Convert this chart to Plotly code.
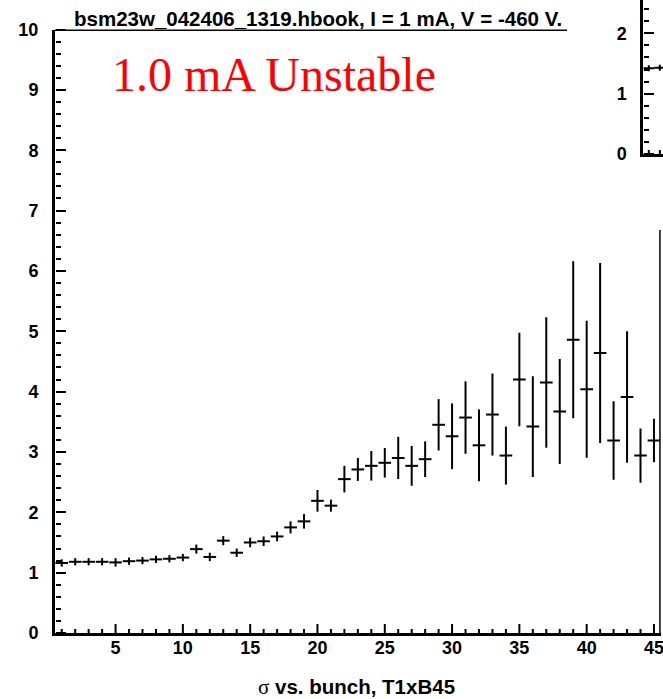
import plotly.graph_objects as go

# ---- data: main panel (sigma vs bunch) ----
bunch = list(range(1, 46))
sigma = [1.16, 1.18, 1.18, 1.18, 1.17, 1.19, 1.20, 1.22, 1.23, 1.25,
         1.39, 1.26, 1.53, 1.33, 1.50, 1.52, 1.60, 1.75, 1.85, 2.19,
         2.11, 2.55, 2.71, 2.77, 2.82, 2.90, 2.77, 2.88, 3.45, 3.26,
         3.57, 3.11, 3.62, 2.94, 4.20, 3.42, 4.15, 3.67, 4.86, 4.04,
         4.64, 3.19, 3.91, 2.94, 3.19]
sigma_err = [0.06, 0.06, 0.06, 0.06, 0.07, 0.06, 0.06, 0.06, 0.06, 0.06,
             0.075, 0.07, 0.075, 0.07, 0.08, 0.08, 0.08, 0.10, 0.12, 0.18,
             0.10, 0.22, 0.19, 0.245, 0.245, 0.35, 0.33, 0.295, 0.425, 0.545,
             0.60, 0.595, 0.68, 0.48, 0.775, 0.835, 1.08, 0.87, 1.30, 1.135,
             1.49, 0.65, 1.09, 0.45, 0.36]
x_major = [5, 10, 15, 20, 25, 30, 35, 40, 45]
x_minor = [b for b in range(1, 46) if b % 5 != 0]
y_major = list(range(0, 11))

# ---- data: partially visible inset panel ----
inset_bunch = [1, 2]
inset_sigma = [1.42, 1.43]
inset_err = [0.05, 0.05]
inset_y_major = [0, 1, 2]

title_text = "bsm23w_042406_1319.hbook, I = 1 mA, V = -460 V."
label_text = "1.0 mA Unstable"
xtitle_text = "<span style='font-family:Liberation Serif;font-weight:normal;font-size:21px'>σ</span> vs. bunch, T1xB45"

W, H = 663, 699
tickfont = dict(family="Liberation Sans", size=18, color="black", weight="bold")

# main axes geometry (pixels)
px_left, px_right = 55, 660.7
py_top, py_bot = 29.5, 633
main_xdom = [px_left / W, px_right / W]
main_ydom = [(H - py_bot) / H, (H - py_top) / H]
inset_xdom = [643.3 / W, 1.0]
inset_ydom = [(H - 154) / H, 1.0]
inset_yrange = [0, 154 / 60.35]
inset_xrange = [0.5, 2.29]
px_per_y = (py_bot - py_top) / 10  # pixels per y unit (main and inset share it)

fig = go.Figure()
fig.add_trace(go.Scatter(
    x=bunch, y=sigma, mode="markers",
    marker=dict(size=1, color="black"),
    error_y=dict(type="data", array=sigma_err, width=0, thickness=2, color="black"),
    error_x=dict(type="constant", value=0.47, width=0, thickness=2, color="black"),
    xaxis="x", yaxis="y", showlegend=False, hoverinfo="skip"))
fig.add_trace(go.Scatter(
    x=inset_bunch, y=inset_sigma, mode="markers",
    marker=dict(size=1, color="black"),
    error_y=dict(type="data", array=inset_err, width=0, thickness=2, color="black"),
    error_x=dict(type="constant", value=0.5, width=0, thickness=2, color="black"),
    xaxis="x2", yaxis="y2", showlegend=False, hoverinfo="skip"))


# inward x-axis tick marks at the tick values (drawn as upward stubs from the axis)
def tick_stubs(xvals, length_px, xa, ya):
    return go.Scatter(
        x=xvals, y=[0] * len(xvals), mode="markers", marker=dict(size=0.1, color="black", opacity=0),
        error_y=dict(type="constant", value=length_px / px_per_y, valueminus=0, symmetric=False,
                     width=0, thickness=2, color="black"),
        xaxis=xa, yaxis=ya, showlegend=False, hoverinfo="skip", cliponaxis=False)


fig.add_trace(tick_stubs(x_major, 9, "x", "y"))
fig.add_trace(tick_stubs(x_minor, 4, "x", "y"))
fig.add_trace(tick_stubs(inset_bunch, 4, "x2", "y2"))
# empty traces so the y tick overlay axes get subplots
for xa, ya in [("x", "y3"), ("x2", "y4")]:
    fig.add_trace(go.Scatter(x=[], y=[], xaxis=xa, yaxis=ya, showlegend=False, hoverinfo="skip"))

base = dict(showgrid=False, zeroline=False, automargin=False, ticklabeloverflow="allow")
tick_only = dict(showline=False, showticklabels=False, ticks="outside",
                 tickwidth=2, tickcolor="black", anchor="free", **base)

fig.update_layout(
    template="none",
    width=W, height=H, showlegend=False,
    margin=dict(l=0, r=0, t=0, b=0, pad=0, autoexpand=False),
    paper_bgcolor="white", plot_bgcolor="white",
    xaxis=dict(domain=main_xdom, range=[0.5, 45.5], showline=True, linewidth=3, linecolor="black",
               ticks="", tickvals=x_major, tickfont=tickfont,
               ticklabelstandoff=-4, anchor="y", **base),
    yaxis=dict(domain=main_ydom, range=[0, 10], showline=True, linewidth=3, linecolor="black",
               ticks="", tickvals=y_major, tickfont=tickfont,
               ticklabelstandoff=10, anchor="x", **base),
    yaxis3=dict(overlaying="y", side="right", position=main_xdom[0], range=[0, 10],
                tickvals=y_major, ticklen=10,
                minor=dict(ticks="outside", dtick=0.2, tick0=0, ticklen=5, tickwidth=2, tickcolor="black"),
                **tick_only),
    # inset axes
    xaxis2=dict(domain=inset_xdom, range=inset_xrange, showline=True, linewidth=3, linecolor="black",
                ticks="", showticklabels=False, anchor="y2", **base),
    yaxis2=dict(domain=inset_ydom, range=inset_yrange, showline=True, linewidth=3, linecolor="black",
                ticks="", tickvals=inset_y_major, tickfont=tickfont, ticklabelstandoff=10,
                anchor="x2", **base),
    yaxis4=dict(overlaying="y2", side="right", position=inset_xdom[0], range=inset_yrange,
                tickvals=inset_y_major, ticklen=10,
                minor=dict(ticks="outside", dtick=0.2, tick0=0, ticklen=5, tickwidth=2, tickcolor="black"),
                **tick_only),
)

# frame: top edge (stops where the inset panel begins) and right edge
top_end = 0.5 + (567 - px_left) / ((px_right - px_left) / 45)
right_top = (py_bot - 230) / px_per_y
fig.add_shape(type="line", xref="x", yref="y", x0=0.5, x1=top_end, y0=10, y1=10,
              line=dict(color="black", width=3))
fig.add_shape(type="line", xref="x", yref="y", x0=45.5, x1=45.5, y0=0, y1=right_top,
              line=dict(color="black", width=3))

fig.add_annotation(text=title_text, xref="paper", yref="paper",
                   x=72 / W, y=(H - 32) / H, xanchor="left", yanchor="bottom",
                   showarrow=False, font=dict(family="Liberation Sans", size=20.5, color="black", weight="bold"))
fig.add_annotation(text=label_text, xref="paper", yref="paper",
                   x=110 / W, y=(H - 75) / H, xanchor="left", yanchor="middle",
                   showarrow=False, font=dict(family="Liberation Serif", size=48, color="red"))
fig.add_annotation(text=xtitle_text, xref="paper", yref="paper",
                   x=356 / W, y=(H - 687) / H, xanchor="center", yanchor="middle",
                   showarrow=False, font=dict(family="Liberation Sans", size=20.5, color="black", weight="bold"))

fig.write_html("out.html")
